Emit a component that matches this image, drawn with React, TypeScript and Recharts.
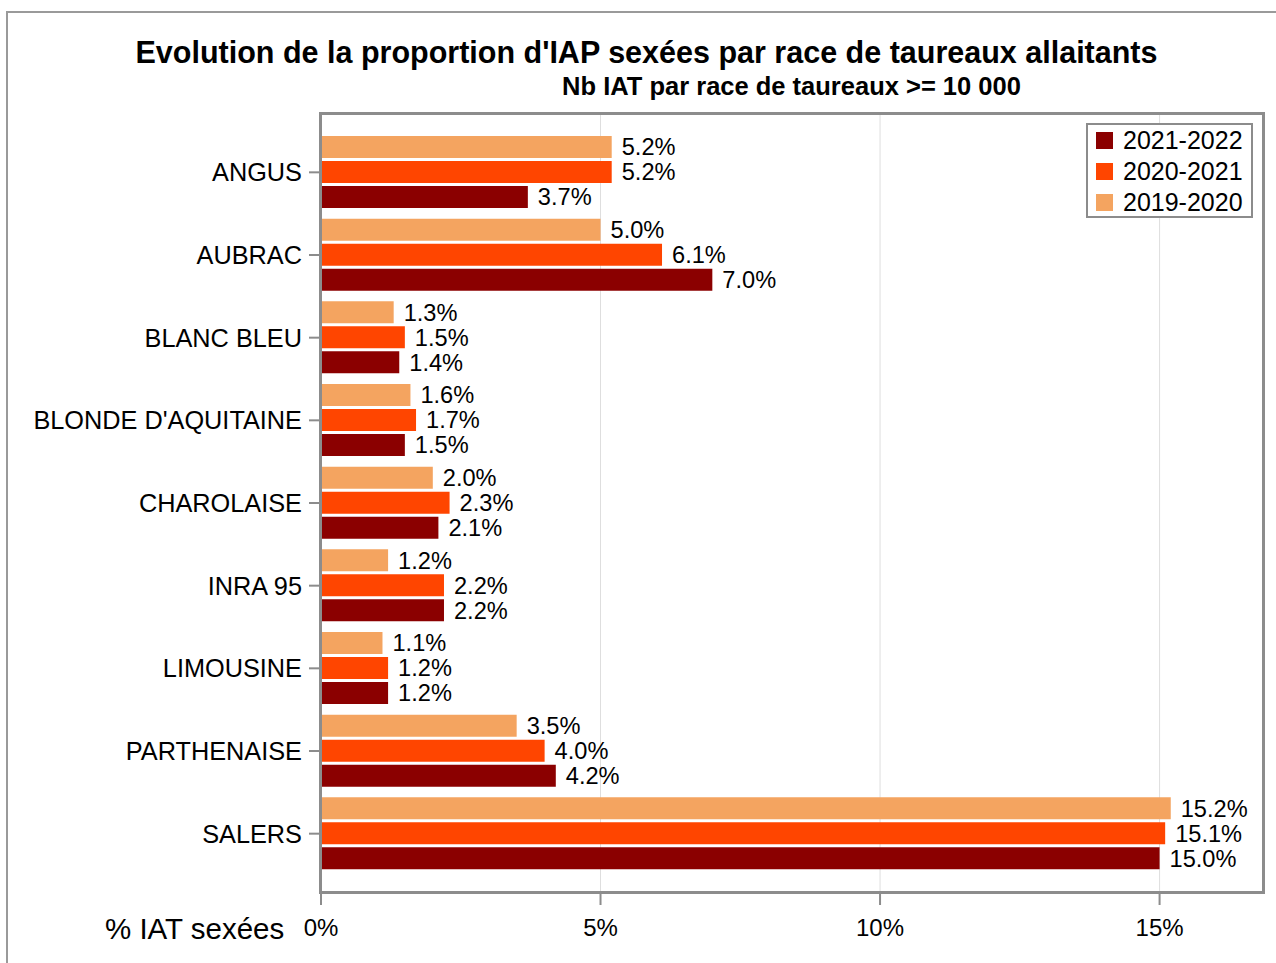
import React from "react"
import { Bar, BarChart, CartesianGrid, LabelList, XAxis, YAxis } from "recharts"

const races = [
  "ANGUS",
  "AUBRAC",
  "BLANC BLEU",
  "BLONDE D'AQUITAINE",
  "CHAROLAISE",
  "INRA 95",
  "LIMOUSINE",
  "PARTHENAISE",
  "SALERS",
]
const y2019 = [5.2, 5.0, 1.3, 1.6, 2.0, 1.2, 1.1, 3.5, 15.2]
const y2020 = [5.2, 6.1, 1.5, 1.7, 2.3, 2.2, 1.2, 4.0, 15.1]
const y2021 = [3.7, 7.0, 1.4, 1.5, 2.1, 2.2, 1.2, 4.2, 15.0]
const xTicks = [0, 5, 10, 15]

const series = [
  { key: "s2021", name: "2021-2022", color: "#8b0000" },
  { key: "s2020", name: "2020-2021", color: "#ff4500" },
  { key: "s2019", name: "2019-2020", color: "#f4a460" },
]

const font = "'Liberation Sans', Arial, sans-serif"

export default function App() {
  const data = races.map((race, i) => ({
    race,
    s2019: y2019[i],
    s2020: y2020[i],
    s2021: y2021[i],
  }))

  const pct = (v: any) => `${Number(v).toFixed(1)}%`

  return (
    <div
      style={{
        position: "absolute",
        left: 0,
        top: 0,
        width: 1276,
        height: 963,
        overflow: "hidden",
        background: "#fff",
        fontFamily: font,
      }}
    >
      {/* outer frame */}
      <div
        style={{
          position: "absolute",
          left: 6,
          top: 11,
          width: 1320,
          height: 1000,
          border: "2px solid #9a9a9a",
        }}
      />
      <div
        style={{
          position: "absolute",
          left: 0,
          width: 1293,
          top: 34,
          textAlign: "center",
          fontSize: 30.5,
          fontWeight: "bold",
          lineHeight: "36px",
          whiteSpace: "nowrap",
        }}
      >
        Evolution de la proportion d'IAP sexées par race de taureaux allaitants
      </div>
      <div
        style={{
          position: "absolute",
          left: 0,
          width: 1583,
          top: 71,
          textAlign: "center",
          fontSize: 25.5,
          fontWeight: "bold",
          lineHeight: "30px",
          whiteSpace: "nowrap",
        }}
      >
        Nb IAT par race de taureaux &gt;= 10 000
      </div>

      <div style={{ position: "absolute", left: 0, top: 0 }}>
        <BarChart
          width={1276}
          height={963}
          data={data}
          layout="vertical"
          margin={{ top: 113, right: 13, bottom: 30, left: 0 }}
          barSize={22}
          barGap={3}
        >
          <CartesianGrid horizontal={false} stroke="#dedede" />
          <XAxis
            type="number"
            domain={[0, 16.85]}
            ticks={xTicks}
            allowDataOverflow
            axisLine={false}
            tickLine={{ stroke: "#8c8c8c", strokeWidth: 2 }}
            tickSize={12}
            tickMargin={14}
            height={40}
            tick={{ fill: "#000", fontSize: 24, fontFamily: font }}
            tickFormatter={(v) => `${v}%`}
          />
          <YAxis
            type="category"
            dataKey="race"
            width={321}
            padding={{ top: 18, bottom: 18 }}
            axisLine={false}
            tickLine={{ stroke: "#8c8c8c", strokeWidth: 2 }}
            tickSize={12}
            tickMargin={7}
            interval={0}
            tick={{ fill: "#000", fontSize: 25.3, fontFamily: font }}
          />
          <Bar dataKey="s2019" fill="#f4a460" isAnimationActive={false}>
            <LabelList dataKey="s2019" position="right" offset={10} formatter={pct} fill="#000" fontSize={23.6} fontFamily={font} />
          </Bar>
          <Bar dataKey="s2020" fill="#ff4500" isAnimationActive={false}>
            <LabelList dataKey="s2020" position="right" offset={10} formatter={pct} fill="#000" fontSize={23.6} fontFamily={font} />
          </Bar>
          <Bar dataKey="s2021" fill="#8b0000" isAnimationActive={false}>
            <LabelList dataKey="s2021" position="right" offset={10} formatter={pct} fill="#000" fontSize={23.6} fontFamily={font} />
          </Bar>
        </BarChart>
      </div>

      {/* plot frame */}
      <div
        style={{
          position: "absolute",
          left: 319,
          top: 112,
          width: 946,
          height: 782,
          boxSizing: "border-box",
          border: "3px solid #8c8c8c",
          pointerEvents: "none",
        }}
      />

      {/* legend */}
      <div
        style={{
          position: "absolute",
          left: 1086,
          top: 123,
          width: 167,
          height: 95,
          boxSizing: "border-box",
          border: "2px solid #8c8c8c",
          background: "#fff",
          padding: "0 0 0 8px",
        }}
      >
        {series.map((s) => (
          <div key={s.key} style={{ display: "flex", alignItems: "center", height: 31 }}>
            <div style={{ width: 17, height: 17, background: s.color, marginRight: 10 }} />
            <span style={{ fontSize: 25, lineHeight: "31px" }}>{s.name}</span>
          </div>
        ))}
      </div>

      <div
        style={{
          position: "absolute",
          left: 105,
          top: 911,
          fontSize: 29.5,
          lineHeight: "36px",
          whiteSpace: "nowrap",
        }}
      >
        % IAT sexées
      </div>
    </div>
  )
}
